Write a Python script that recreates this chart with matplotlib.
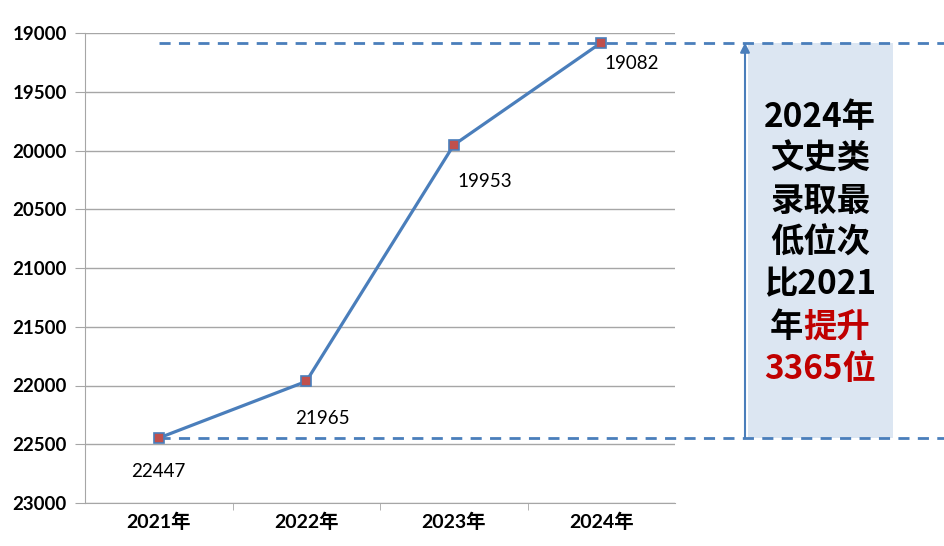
import matplotlib.pyplot as plt
import matplotlib.transforms as mtransforms
from matplotlib.patches import Rectangle

plt.rcParams['font.family'] = ['Lato', 'Noto Sans CJK SC', 'DejaVu Sans']

# data
years = ['2021年', '2022年', '2023年', '2024年']
ranks = [22447, 21965, 19953, 19082]
# label offsets (points) for the value labels
label_dx = [0, 12, 22, 22]
label_dy = [-24, -27, -26, -15]
y_ticks = [19000, 19500, 20000, 20500, 21000, 21500, 22000, 22500, 23000]

box_lines = [
    [('2024年', 'black')],
    [('文史类', 'black')],
    [('录取最', 'black')],
    [('低位次', 'black')],
    [('比2021', 'black')],
    [('年', 'black'), ('提升', '#C00000')],
    [('3365位', '#C00000')],
]

blue = '#4A7EBB'
grid_gray = '#A6A6A6'

fig = plt.figure(figsize=(9.44, 5.46), dpi=100)
ax = fig.add_axes([85 / 944, 1 - 503 / 546, 590 / 944, 470 / 546])

x = list(range(len(years)))
ax.set_xlim(-0.5, len(years) - 0.5)
ax.set_ylim(23000, 19000)
ax.set_yticks(y_ticks)
ax.set_yticklabels([str(v) for v in y_ticks], fontsize=13.5, fontweight='bold')
ax.set_xticks(x)
ax.set_xticklabels(years, fontsize=14, fontweight='bold')
ax.tick_params(axis='x', length=0, pad=7)
ax.set_xticks([i + 0.5 for i in x[:-1]], minor=True)
ax.tick_params(axis='x', which='minor', length=5, color=grid_gray)
ax.tick_params(axis='y', length=7, color=grid_gray, pad=6)

for s in ['top', 'right']:
    ax.spines[s].set_visible(False)
for s in ['left', 'bottom']:
    ax.spines[s].set_color(grid_gray)
ax.grid(axis='y', color=grid_gray, lw=1)
ax.set_axisbelow(True)

ax.plot(x, ranks, color=blue, lw=2.3, marker='s', markersize=7.5,
        markerfacecolor='#C0504D', markeredgecolor=blue, markeredgewidth=1.2, zorder=4)

for i, v in enumerate(ranks):
    ax.annotate(str(v), (x[i], v), xytext=(label_dx[i], label_dy[i]),
                textcoords='offset points', ha='center', va='center', fontsize=13.5)

# dashed reference lines from the 2021 point out to the figure edge
for v in [ranks[-1], ranks[0]]:
    ax.plot([0, 5.5], [v, v], color=blue, lw=2, linestyle=(0, (4, 3)),
            clip_on=False, zorder=3)

# note box
bt = mtransforms.blended_transform_factory(fig.transFigure, ax.transData)
box = Rectangle((748 / 944, ranks[-1]), 145 / 944, ranks[0] - ranks[-1],
                transform=bt, facecolor='#DCE6F2', edgecolor='none', clip_on=False, zorder=1)
ax.add_patch(box)

ax.annotate('', xy=(745 / 944, ranks[-1]), xytext=(745 / 944, ranks[0]),
            xycoords=bt, textcoords=bt,
            arrowprops=dict(arrowstyle='-|>', color=blue, lw=1.5, mutation_scale=14,
                            shrinkA=0, shrinkB=0), annotation_clip=False)

cx = 820 / 944
top_y = 1 - 117 / 546
step = 42 / 546
for k, parts in enumerate(box_lines):
    yy = top_y - k * step
    kw = dict(fontsize=24, fontweight='bold', va='center', transform=fig.transFigure,
              family=['Noto Sans CJK SC', 'DejaVu Sans'])
    if len(parts) == 1:
        fig.text(cx, yy, parts[0][0], color=parts[0][1], ha='center', **kw)
    else:
        fig.text(803 / 944, yy, parts[0][0], color=parts[0][1], ha='right', **kw)
        fig.text(803 / 944, yy, parts[1][0], color=parts[1][1], ha='left', **kw)

fig.savefig('out.png', dpi=100)
